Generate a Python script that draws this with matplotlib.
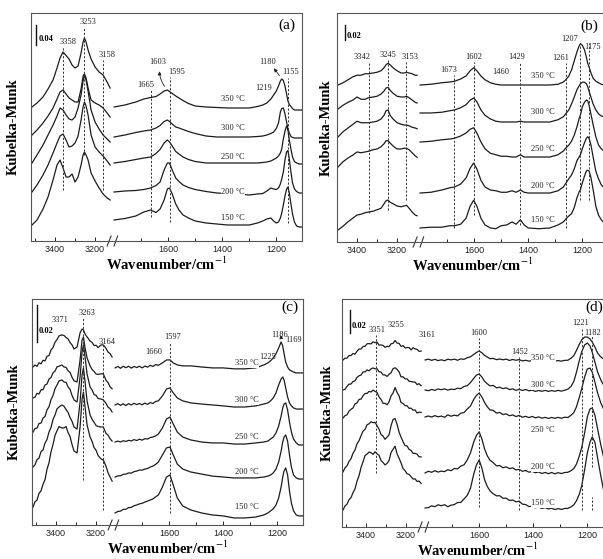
import numpy as np
import matplotlib
matplotlib.use('Agg')
from matplotlib import pyplot as plt
from matplotlib.ticker import FixedLocator

plt.rcParams['font.family'] = ['Liberation Serif', 'DejaVu Serif']
plt.rcParams['mathtext.fontset'] = 'stix'

temps = ['350 °C', '300 °C', '250 °C', '200 °C', '150 °C']

# ---------------- (a) ----------------  spectra in 1e-3 K-M units
a_hi_wn = [3515, 3490, 3460, 3435, 3410, 3390, 3375, 3360, 3345, 3330, 3315, 3300,
           3285, 3270, 3260, 3253, 3245, 3235, 3220, 3200, 3180, 3160, 3140, 3125]
a_hi_350 = [0, 8, 20, 36, 54, 78, 98, 110, 103, 96, 84, 78, 82, 108, 130, 138, 130, 114, 96, 80, 70, 64, 50, 38]
a_hi_300 = [0, 10, 24, 38, 54, 72, 86, 90, 82, 74, 70, 66, 66, 92, 118, 122, 114, 94, 70, 64, 60, 54, 44, 36]
a_hi_250 = [0, 16, 36, 56, 76, 94, 110, 106, 96, 88, 86, 92, 110, 136, 164, 176, 166, 144, 106, 82, 68, 56, 48, 42]
a_hi_200 = [0, 14, 34, 54, 78, 98, 112, 116, 104, 90, 92, 98, 112, 144, 170, 180, 172, 154, 114, 90, 80, 72, 62, 54]
a_hi_150 = [0, 10, 32, 56, 90, 120, 130, 114, 96, 96, 102, 86, 96, 120, 140, 146, 140, 130, 104, 88, 74, 62, 54, 50]

a_lo_wn = [1800, 1760, 1720, 1690, 1665, 1645, 1630, 1615, 1603, 1595, 1585, 1572, 1560, 1545,
           1525, 1500, 1460, 1420, 1380, 1340, 1300, 1270, 1250, 1235, 1220, 1210, 1200, 1192,
           1185, 1180, 1174, 1168, 1162, 1157, 1152, 1146, 1140, 1133, 1125, 1115, 1105]
a_lo_350 = [0, 4, 10, 16, 19, 21, 26, 32, 34, 31, 27, 22, 18, 13, 7, 2, 0, -1, -2, -2, -2, 1, 4, 8,
            16, 24, 32, 42, 52, 56, 53, 42, 26, 12, 5, 1, -3, -6, -6, -6, -6]
a_lo_300 = [0, 4, 9, 12, 14, 18, 23, 31, 34, 31, 26, 20, 18, 15, 11, 7, 2, 0, 0, 0, 0, 1, 2, 4,
            7, 10, 17, 28, 50, 57, 58, 46, 30, 16, 8, 1, -1, -2, -2, -2, -2]
a_lo_250 = [0, 3, 7, 10, 12, 19, 27, 40, 46, 42, 34, 23, 18, 12, 7, 3, 0, 0, 0, 0, 0, 0, 1, 2,
            4, 7, 10, 14, 20, 28, 48, 64, 74, 66, 46, 28, 12, 3, 0, -2, -2]
a_lo_200 = [0, 2, 3, 5, 8, 13, 20, 44, 58, 58, 44, 28, 21, 14, 9, 5, 1, -2, -3, -4, -6, -4, -3, 2,
            8, 6, 5, 8, 16, 26, 40, 64, 80, 83, 66, 40, 18, 6, 1, -2, -2]
a_lo_150 = [0, 3, 8, 16, 20, 15, 22, 40, 62, 64, 52, 32, 20, 10, 4, -2, -6, -8, -10, -10, -10, -6,
            -2, 2, 4, -2, -6, -4, 4, 14, 30, 48, 62, 66, 54, 32, 12, -4, -12, -14, -14]
a_off_hi = [0.268, 0.212, 0.156, 0.098, 0.032]
a_off_lo = [0.268, 0.208, 0.156, 0.098, 0.042]

# ---------------- (b) ----------------
b_hi_wn = [3495, 3470, 3445, 3420, 3400, 3380, 3360, 3342, 3320, 3300, 3280, 3265,
           3255, 3245, 3235, 3220, 3200, 3180, 3165, 3153, 3140, 3125, 3110, 3100]
b_hi_350 = [0, 3, 7, 11, 13, 13, 15, 15, 16, 17, 19, 23, 27, 29, 27, 23, 19, 16, 16, 17, 16, 15, 13, 13]
b_hi_300 = [0, 5, 9, 12, 16, 13, 13, 15, 16, 17, 20, 24, 28, 29, 25, 21, 17, 16, 16, 17, 15, 12, 9, 8]
b_hi_250 = [0, 7, 12, 17, 21, 19, 19, 19, 20, 21, 24, 29, 35, 36, 29, 24, 19, 17, 16, 16, 15, 13, 12, 11]
b_hi_200 = [0, 7, 12, 16, 20, 19, 20, 21, 23, 24, 27, 31, 35, 35, 32, 28, 24, 24, 25, 25, 23, 19, 15, 13]
b_hi_150 = [0, 5, 11, 16, 20, 21, 23, 24, 25, 27, 29, 35, 39, 40, 37, 35, 32, 31, 32, 33, 29, 24, 20, 19]

b_lo_wn = [1800, 1760, 1720, 1690, 1673, 1650, 1630, 1615, 1602, 1590, 1575, 1560, 1540, 1520,
           1500, 1480, 1460, 1445, 1429, 1415, 1400, 1360, 1320, 1290, 1270, 1261, 1250, 1240,
           1230, 1220, 1212, 1207, 1200, 1192, 1185, 1180, 1175, 1168, 1160, 1150, 1140, 1130,
           1120, 1105]
b_lo_350 = [0, 1, 3, 4, 5, 8, 12, 19, 23, 19, 12, 7, 3, 1, 0, 0, 0, 0, 0, 0, 0, 0, 0, 1, 4, 7,
            12, 20, 32, 44, 52, 55, 53, 47, 37, 29, 24, 16, 9, 5, 3, 1, 0, 0]
b_lo_300 = [12, 12, 13, 15, 16, 19, 23, 29, 32, 27, 16, 9, 4, 1, 0, 0, 0, 0, 1, 0, 0, 0, 0, 3, 7,
            11, 16, 24, 33, 43, 48, 51, 53, 53, 51, 47, 41, 33, 24, 16, 11, 8, 7, 5]
b_lo_250 = [20, 21, 23, 24, 25, 28, 32, 37, 39, 32, 20, 11, 5, 3, 1, 1, 0, 0, 3, 0, 0, 0, 0, 3, 8,
            12, 16, 21, 29, 40, 51, 56, 67, 73, 76, 75, 69, 57, 43, 27, 16, 11, 8, 7]
b_lo_200 = [0, 1, 4, 7, 8, 12, 20, 33, 40, 32, 17, 8, 4, 3, 1, 1, 3, 1, 4, 1, 0, 0, 0, 3, 8, 13,
            19, 24, 32, 43, 48, 51, 59, 67, 73, 75, 73, 64, 48, 29, 19, 11, 7, 5]
b_lo_150 = [0, 1, 1, 3, 3, 5, 13, 29, 37, 29, 13, 4, 0, -1, 3, 4, 8, 5, 11, 4, 0, -1, 0, 4, 8, 12,
            16, 19, 27, 40, 48, 51, 60, 69, 76, 77, 76, 67, 51, 29, 17, 11, 7, 5]
b_off_hi = [0.2093, 0.1773, 0.140, 0.100, 0.016]
b_off_lo = [0.2093, 0.160, 0.1133, 0.0653, 0.0187]

# ---------------- (c) ----------------
c_hi_wn = [3515, 3505, 3495, 3485, 3475, 3465, 3455, 3445, 3435, 3425, 3415, 3405, 3395, 3385,
           3371, 3360, 3350, 3340, 3330, 3320, 3310, 3295, 3280, 3270, 3263, 3255, 3245, 3230,
           3220, 3210, 3200, 3190, 3175, 3164, 3150, 3140, 3130, 3120]
c_hi_350 = [0, 1.1, 0.3, 2.3, 1.7, 3.6, 3.3, 5.8, 6.1, 9.2, 10.5, 13.4, 14.8, 16.8,
            17.3, 17.0, 15.9, 15.2, 13.2, 11.9, 9.7, 10.8, 18.4, 20.5, 20.0, 17.8, 16.2, 14.0,
            13.3, 11.6, 11.7, 10.5, 11.9, 11.9, 10.0, 8.0, 7.2, 5.4]
c_hi_300 = [0, 0.4, 2.5, 2.1, 4.4, 4.4, 7.0, 7.5, 10.2, 11.0, 13.6, 14.5, 16.8, 17.1,
            17.8, 16.7, 16.5, 14.6, 13.8, 11.1, 9.2, 8.6, 20.5, 31.3, 32.9, 27.0, 21.6, 17.3,
            15.4, 14.3, 12.9, 12.7, 13.0, 13.0, 9.4, 8.2, 6.0, 4.9]
c_hi_250 = [0, 1.9, 2.1, 4.6, 4.8, 7.5, 8.4, 12.0, 13.6, 17.5, 19.7, 23.4, 25.4, 27.6,
            28.1, 27.0, 26.8, 24.3, 23.0, 19.7, 17.3, 16.2, 29.7, 43.2, 47.0, 40.5, 31.3, 24.3,
            22.7, 20.2, 19.8, 18.1, 17.8, 17.3, 15.4, 13.4, 12.6, 10.8]
c_hi_200 = [0, 1.2, 4.0, 4.8, 8.3, 9.2, 12.9, 14.9, 18.9, 21.4, 25.7, 28.1, 31.4, 32.4,
            33.5, 32.8, 31.0, 29.5, 26.7, 24.6, 21.6, 20.5, 35.1, 49.7, 53.5, 45.9, 35.6, 28.1,
            25.7, 24.1, 22.4, 21.9, 21.6, 21.6, 18.1, 17.2, 15.2, 14.0]
c_hi_150 = [0, 2.8, 3.7, 7.4, 8.7, 12.3, 14.8, 20.4, 23.9, 29.8, 33.8, 38.7, 41.2, 43.4,
            42.7, 42.7, 43.5, 40.2, 38.1, 33.7, 30.2, 29.2, 43.2, 58.3, 62.1, 54.0, 44.3, 37.8,
            35.4, 32.1, 30.6, 27.8, 25.9, 25.4, 21.9, 18.4, 16.2, 14.0]

c_lo_wn = [1800, 1790, 1780, 1770, 1760, 1750, 1740, 1730, 1720, 1710, 1700, 1690, 1680, 1670,
           1660, 1650, 1640, 1625, 1610, 1597, 1585, 1570, 1550, 1520, 1480, 1440, 1400, 1360,
           1320, 1280, 1250, 1235, 1225, 1215, 1205, 1195, 1186, 1180, 1175, 1169, 1162, 1155,
           1148, 1140, 1130, 1120, 1105]
c_lo_350 = [0, 0.8, -0.2, 0.9, 0.1, 0.9, -0.1, 0.8, 0.2, 0.9, 0.0, 1.0, 0.4, 1.4, 0.8, 1.8, 1.4,
            2.7, 4.3, 4.3, 2.7, 1.6, 1.1, 1.1, 0.5, 0, 0, -0.5, -0.5, 0,
            1.6, 2.7, 3.8, 5.4, 7.6, 10.8, 14.0, 11.9, 7.6, 3.2, 0.5, -1.1, -1.6, -2.2, -2.7, -2.7, -2.7]
c_lo_300 = [0, 0.7, -0.2, 0.6, -0.3, 0.7, 0.0, 0.9, 0.2, 0.8, 0.1, 1.0, 0.3, 1.3, 0.8, 1.9, 2.2,
            4.9, 8.6, 9.2, 6.5, 3.8, 2.2, 1.1, 0.5, 0, -0.5, -1.1, -1.1, -0.5,
            0.5, 1.1, 2.2, 3.8, 6.5, 10.8, 14.0, 15.1, 13.5, 9.2, 4.3, 1.1, -0.5, -1.6, -2.2, -2.2, -2.2]
c_lo_250 = [0, 0.5, 0.0, 0.7, 0.3, 0.9, 0.6, 1.3, 0.8, 1.5, 1.0, 1.8, 1.6, 2.4, 2.7, 3.3, 4.3,
            7.6, 12.4, 13.5, 9.7, 5.4, 2.7, 1.1, 0, -0.5, -0.5, -1.1, -1.1, -0.5,
            0, 0.5, 1.6, 2.7, 4.9, 8.6, 14.0, 18.4, 20.5, 21.1, 17.3, 10.8, 5.4, 1.6, -0.5, -1.6, -1.6]
c_lo_200 = [0, 0.6, 0.7, 1.4, 1.6, 2.2, 2.1, 2.9, 3.2, 3.8, 3.7, 4.3, 4.6, 5.4, 5.9, 6.8, 8.1,
            11.9, 15.7, 16.2, 11.9, 7.0, 4.3, 2.7, 1.6, 0.5, 0, -0.5, -0.5, -0.5,
            0, 0.5, 1.1, 2.2, 4.3, 8.1, 14.0, 18.9, 21.6, 22.7, 19.4, 11.9, 5.4, 1.1, -0.5, -1.1, -1.1]
c_lo_150 = [0, 0.8, 1.0, 1.9, 2.0, 2.9, 3.0, 3.9, 4.3, 4.9, 5.2, 5.9, 6.4, 7.0, 7.6, 8.7, 9.7,
            14.0, 19.4, 20.5, 15.1, 8.1, 3.8, 1.6, 0, -1.1, -1.6, -2.7, -2.7, -2.2,
            -1.1, 0, 1.1, 2.2, 4.3, 8.1, 14.0, 19.4, 22.7, 24.3, 20.5, 11.9, 5.4, 1.1, -1.1, -1.6, -1.6]
c_off_hi = [0.0853, 0.0686, 0.0502, 0.0313, 0.0097]
c_off_lo = [0.0848, 0.0648, 0.0448, 0.0259, 0.0065]

# ---------------- (d) ----------------
d_hi_wn = [3515, 3505, 3495, 3485, 3475, 3465, 3455, 3445, 3435, 3425, 3415, 3405, 3395, 3385,
           3375, 3365, 3355, 3345, 3335, 3325, 3315, 3305, 3295, 3285, 3275, 3265, 3255, 3245,
           3235, 3225, 3215, 3205, 3195, 3185, 3175, 3165, 3155, 3145, 3135, 3125]
d_hi_350 = [0, 1.6, 1.6, 3.9, 3.9, 5.7, 5.1, 7.7, 9.6, 9.6, 11.8, 11.9, 14.1, 14.3,
            14.0, 15.8, 15.1, 15.6, 13.0, 13.1, 12.7, 11.0, 12.0, 11.6, 14.1, 14.5, 17.0, 14.7,
            14.5, 11.8, 12.5, 10.5, 10.9, 10.8, 8.8, 10.7, 9.7, 9.3, 7.6, 7.7]
d_hi_300 = [0, 0.6, 3.2, 5.1, 5.2, 7.4, 8.0, 11.0, 12.4, 13.0, 15.8, 15.7, 17.5, 16.7,
            18.4, 19.2, 18.4, 18.5, 15.9, 15.6, 13.2, 13.1, 11.8, 13.7, 15.0, 18.6, 19.4, 18.0,
            15.8, 11.4, 11.5, 9.7, 9.7, 7.6, 7.4, 7.0, 6.9, 4.7, 5.5, 3.7]
d_hi_250 = [0, 2.1, 2.8, 6.0, 7.6, 8.8, 12.3, 13.2, 16.2, 16.5, 19.4, 21.4, 21.4, 23.2,
            22.7, 24.3, 23.2, 22.3, 18.4, 16.2, 12.8, 12.8, 11.6, 14.2, 19.3, 21.8, 26.6, 22.3,
            19.2, 13.4, 12.6, 10.9, 10.6, 8.5, 8.6, 6.9, 7.0, 4.4, 5.1, 4.9]
d_hi_200 = [0, 3.6, 5.3, 9.2, 11.5, 16.3, 19.1, 24.5, 27.2, 31.6, 35.5, 37.0, 41.0, 41.9,
            43.7, 42.8, 43.2, 40.3, 37.1, 32.5, 31.2, 28.4, 30.3, 32.3, 40.4, 45.6, 46.5, 41.5,
            34.7, 30.2, 26.3, 22.9, 22.6, 19.6, 18.8, 16.1, 16.2, 15.5, 13.2, 13.1]
d_hi_150 = [0, 3.5, 5.1, 8.9, 10.8, 15.1, 18.4, 25.1, 29.8, 37.0, 41.9, 47.4, 48.6, 50.4,
            49.9, 48.4, 50.6, 48.9, 47.6, 43.0, 41.3, 39.2, 40.6, 43.0, 50.1, 52.8, 55.5, 48.8,
            45.1, 40.9, 36.0, 34.2, 31.5, 31.0, 28.9, 26.9, 27.1, 24.8, 25.2, 23.1]

d_lo_wn = [1800, 1788, 1776, 1764, 1752, 1740, 1728, 1716, 1704, 1692, 1680, 1668, 1656, 1644,
           1632, 1620, 1610, 1600, 1590, 1580, 1570, 1560, 1548, 1536, 1524, 1512, 1500, 1488,
           1476, 1464, 1452, 1440, 1428, 1416, 1404, 1392, 1380, 1368, 1356, 1344, 1332, 1320,
           1308, 1296, 1284, 1272, 1260, 1250, 1240, 1230, 1221, 1210, 1200, 1190, 1182, 1172,
           1162, 1150, 1140, 1130, 1120, 1105]
d_lo_350 = [0, 0.8, -0.3, 0.6, -0.5, 0.2, -0.6, 0.7, 0.1, 0.8, -0.2, 1.0, 0.6, 2.0,
            2.8, 4.9, 6.6, 7.8, 6.3, 4.0, 2.6, 1.2, 1.4, 0.3, 0.9, 0.2, 0.8, -0.4,
            0.5, -0.2, 0.4, -0.8, -0.2, -1.0, -0.4, -1.1, -0.5, -1.2, -0.6, -1.1, -0.4, -1.0,
            -0.5, -1.0, -0.3, -0.2, 1.6, 3.8, 8.4, 13.5, 17.4, 20.0, 20.0, 18.3, 15.7, 11.3,
            6.1, 2.6, 0.9, 0, 0, 0]
d_lo_300 = [0, -0.6, 0.5, -0.3, 0.9, 0.3, 1.0, -0.1, 0.8, 0.4, 1.6, 1.2, 3.1, 3.8,
            6.5, 10.2, 13.0, 13.9, 11.3, 7.6, 5.4, 3.6, 4.0, 1.9, 2.4, 1.2, 1.9, 0.4,
            1.0, -0.3, 0.6, -0.4, 0.5, -0.7, -0.1, -1.2, -0.4, -1.1, -0.3, -1.2, -0.5, -1.1,
            -0.3, -1.0, -0.2, 0.7, 3.2, 7.4, 15.6, 25.3, 33.1, 39.2, 40.9, 38.3, 33.1, 24.4,
            15.7, 8.7, 4.4, 2.6, 1.7, 0.9]
d_lo_250 = [0, 0.9, 0.0, 1.2, 0.2, 0.8, -0.2, 1.9, 0.7, 1.6, 1.0, 3.3, 3.9, 7.0,
            9.6, 15.4, 18.9, 20.9, 17.4, 12.6, 8.9, 6.2, 5.8, 3.4, 4.0, 2.1, 2.8, 1.1,
            1.8, 0.4, 1.4, -0.2, 0.6, -0.5, 0.5, -0.7, 0.1, -1.0, -0.3, -1.2, -0.4, -1.1,
            -0.3, -1.1, -0.2, -0.4, 1.6, 3.8, 9.0, 16.8, 24.4, 34.8, 41.8, 42.6, 39.2, 30.5,
            20.9, 12.2, 7.0, 3.5, 1.7, 0.9]
d_lo_200 = [0, 1.5, 0.6, 2.0, 0.8, 1.6, 1.2, 2.8, 2.0, 3.9, 3.6, 6.0, 7.1, 11.4,
            17.6, 27.0, 32.8, 35.7, 29.6, 20.9, 15.0, 11.1, 9.0, 6.2, 6.5, 4.6, 5.3, 3.8,
            4.4, 2.7, 3.1, 1.5, 2.2, 0.7, 1.4, 0.2, 0.9, -0.5, 0.5, -0.6, 0.4, -0.7,
            0.3, -0.5, 0.4, 0.6, 2.0, 3.9, 7.8, 14.5, 21.8, 34.8, 48.7, 55.7, 56.6, 50.5,
            38.3, 24.4, 13.9, 7.8, 4.4, 1.7]
d_lo_150 = [0, 0.4, 1.9, 1.2, 2.8, 2.0, 2.9, 1.1, 2.5, 3.0, 4.8, 4.9, 7.9, 11.0,
            17.4, 29.6, 37.6, 41.8, 34.8, 24.6, 18.8, 14.9, 12.4, 10.6, 10.7, 8.5, 8.6, 6.6,
            7.0, 5.4, 5.9, 3.4, 3.0, 1.3, 1.5, 0.2, 0.9, -0.4, 0.4, -0.8, -0.2, -1.3,
            -0.5, -1.2, -0.4, -0.3, 1.0, 2.8, 6.4, 11.8, 19.1, 33.1, 47.9, 57.4, 61.8, 57.4,
            43.5, 27.8, 15.7, 8.7, 4.4, 1.7]
d_off_hi = [0.1453, 0.1192, 0.0948, 0.0479, 0.0148]
d_off_lo = [0.1453, 0.1192, 0.0957, 0.0470, 0.0165]

# peak marks: (wavenumber, label dx in pt, label y, dashed line top, dashed line bottom)
a_peaks = [(3358, 3.3, .873, .851, .224), (3253, 2.6, .960, .939, .377), (3158, 2.6, .816, .794, .224),
           (1665, -3.2, .684, .662, .105), (1603, -7.2, .785, None, None), (1595, 4.8, .741, .719, .083),
           (1180, -10.4, .785, None, None), (1155, 1.3, .741, .715, .079), (1219, -5.7, .671, None, None)]
b_peaks = [(3342, -4.8, .808, .786, .127), (3245, 0, .817, .795, .140), (3153, 2.6, .808, .786, .183),
           (1673, -4.5, .751, .729, .061), (1602, 0, .808, .786, .118), (1460, -7.8, .742, None, None),
           (1429, -3, .808, .786, .074), (1261, -4, .803, .782, .061), (1207, -8, .886, .869, .183),
           (1175, 2.5, .852, .869, .183)]
c_peaks = [(3371, -1.3, .907, None, None), (3263, 2.6, .938, .916, .199), (3164, 2.7, .810, .796, .066),
           (1660, 0.9, .765, None, None), (1597, 1.6, .832, .810, .053), (1225, -2.4, .743, None, None),
           (1186, -1.3, .841, None, None), (1169, 5.5, .819, None, None)]
d_peaks = [(3351, 0.9, .864, .842, .237), (3255, 0.7, .886, None, None), (3161, 9.5, .842, None, None),
           (1600, 0, .851, .829, .088), (1452, 0, .768, .746, .075), (1221, -1, .895, .877, .075),
           (1182, 0.3, .851, .842, .263), (1182, None, None, .132, .075)]

W_END = 1105.0
GAP = 3.0


def broken_scale(w_cut):
    # high block at 0.2 px per cm-1, low block (1800 .. W_END) at 0.27, small gap between
    rw = (1800 - W_END) * 0.27

    def fwd(w):
        w = np.asarray(w, dtype=float)
        lo = (w - W_END) * 0.27
        mid = rw + (w - 1800) / (w_cut - 1800) * GAP
        hi = rw + GAP + (w - w_cut) * 0.2
        return np.where(w <= 1800, lo, np.where(w < w_cut, mid, hi))

    def inv(u):
        u = np.asarray(u, dtype=float)
        lo = W_END + u / 0.27
        mid = 1800 + (u - rw) / GAP * (w_cut - 1800)
        hi = w_cut + (u - rw - GAP) / 0.2
        return np.where(u <= rw, lo, np.where(u < rw + GAP, mid, hi))
    return fwd, inv


fig = plt.figure(figsize=(6.03, 5.59), dpi=100)
W, H = 603.0, 559.0

panels = [
    dict(rect=(31, 241, 228), w_left=3520, ymax=0.456, hi_wn=a_hi_wn, lo_wn=a_lo_wn,
         hi=[a_hi_350, a_hi_300, a_hi_250, a_hi_200, a_hi_150],
         lo=[a_lo_350, a_lo_300, a_lo_250, a_lo_200, a_lo_150], off_hi=a_off_hi, off_lo=a_off_lo,
         peaks=a_peaks, tag='(a)', tag_xy=(0.945, 0.947), bar=(3495, 0.392, 0.04, '0.04', 3480),
         t_x=1360, t_y=[0.623, 0.496, 0.368, 0.215, 0.101], pad=8),
    dict(rect=(337, 242, 229), w_left=3500, ymax=0.3053, hi_wn=b_hi_wn, lo_wn=b_lo_wn,
         hi=[b_hi_350, b_hi_300, b_hi_250, b_hi_200, b_hi_150],
         lo=[b_lo_350, b_lo_300, b_lo_250, b_lo_200, b_lo_150], off_hi=b_off_hi, off_lo=b_off_lo,
         peaks=b_peaks, tag='(b)', tag_xy=(0.93, 0.943), bar=(3460, 0.2693, 0.02, '0.02', 3452),
         t_x=1345, t_y=[0.725, 0.568, 0.406, 0.245, 0.096], pad=3),
    dict(rect=(32, 525, 226), w_left=3520, ymax=0.122, hi_wn=c_hi_wn, lo_wn=c_lo_wn,
         hi=[c_hi_350, c_hi_300, c_hi_250, c_hi_200, c_hi_150],
         lo=[c_lo_350, c_lo_300, c_lo_250, c_lo_200, c_lo_150], off_hi=c_off_hi, off_lo=c_off_lo,
         peaks=c_peaks, tag='(c)', tag_xy=(0.952, 0.965), bar=(3495, 0.0988, 0.02, '0.02', 3486),
         t_x=1312, t_y=[0.717, 0.553, 0.389, 0.235, 0.080], pad=8),
    dict(rect=(342, 527, 228), w_left=3520, ymax=0.1984, hi_wn=d_hi_wn, lo_wn=d_lo_wn,
         hi=[d_hi_350, d_hi_300, d_hi_250, d_hi_200, d_hi_150],
         lo=[d_lo_350, d_lo_300, d_lo_250, d_lo_200, d_lo_150], off_hi=d_off_hi, off_lo=d_off_lo,
         peaks=d_peaks, tag='(d)', tag_xy=(0.93, 0.965), bar=(3480, 0.1688, 0.02, '0.02', 3472),
         t_x=1363, t_y=[0.741, 0.623, 0.425, 0.263, 0.105], pad=6),
]

line_kw = dict(color='#1c1c1c', lw=0.9)
dash_kw = dict(color='#333333', lw=0.7, ls=(0, (2.2, 1.8)))

for p in panels:
    x0, y0, h = p['rect']
    ax = fig.add_axes([x0 / W, (H - y0) / H, 271 / W, h / H])
    w_cut = p['w_left'] - 400
    ax.set_xscale('function', functions=broken_scale(w_cut))
    ax.set_xlim(p['w_left'], W_END)
    ax.set_ylim(0, p['ymax'])

    for i in range(5):
        ax.plot(p['hi_wn'], np.array(p['hi'][i]) * 1e-3 + p['off_hi'][i], **line_kw)
        ax.plot(p['lo_wn'], np.array(p['lo'][i]) * 1e-3 + p['off_lo'][i], **line_kw)
        ax.text(p['t_x'], p['t_y'][i], temps[i], transform=ax.get_xaxis_transform(),
                fontsize=6, ha='center', va='center', color='#222222',
                bbox=dict(fc='white', ec='none', pad=0.4))

    for wn, dx, ty, top, bot in p['peaks']:
        if top is not None:
            ax.axvline(wn, ymin=bot, ymax=top, **dash_kw)
        if dx is not None:
            ax.annotate(str(wn), xy=(wn, ty), xycoords=ax.get_xaxis_transform(),
                        xytext=(dx, 0), textcoords='offset points',
                        fontsize=6, ha='center', va='center', color='#222222')

    # scale bar
    bx, by, bl, btxt, tx = p['bar']
    ax.plot([bx, bx], [by, by + bl], color='#111111', lw=1.0)
    ax.text(tx, by + 0.3 * bl, btxt, fontsize=6, fontweight='bold', ha='left', va='center')

    ax.text(*p['tag_xy'], p['tag'], transform=ax.transAxes, fontsize=11, ha='center', va='center')

    # axis break marks
    for wn, d in ((w_cut + 8, 12), (1800 - 4, 9)):
        ax.plot([wn + d, wn - d], [-0.022, 0.022], transform=ax.get_xaxis_transform(),
                color='#333333', lw=0.8, clip_on=False)

    ax.xaxis.set_major_locator(FixedLocator([3400, 3200, 1600, 1400, 1200]))
    ax.xaxis.set_minor_locator(FixedLocator([3500, 3300, 1700, 1500, 1300]))
    ax.tick_params(axis='x', which='major', direction='in', length=3, width=0.7, pad=3,
                   labelsize=6.5, labelfontfamily='Liberation Sans', colors='#222222')
    ax.tick_params(axis='x', which='minor', direction='in', length=2, width=0.6)
    ax.set_yticks([])
    for s in ax.spines.values():
        s.set_color('#555555')
        s.set_linewidth(0.8)
    ax.set_xlabel('Wavenumber/cm$^{-1}$', fontsize=10.5, fontweight='bold', labelpad=1)
    ax.set_ylabel('Kubelka-Munk', fontsize=10.5, fontweight='bold', labelpad=p['pad'])

    if p['tag'] == '(a)':
        ax.annotate('', xy=(1632, 0.345), xytext=(1607, 0.305),
                    arrowprops=dict(arrowstyle='-|>', lw=0.6, color='#222222', mutation_scale=5,
                                    connectionstyle='arc3,rad=-0.2'))
        ax.annotate('', xy=(1215, 0.350), xytext=(1182, 0.326),
                    arrowprops=dict(arrowstyle='-|>', lw=0.6, color='#222222', mutation_scale=5))
    if p['tag'] == '(c)':
        ax.annotate('', xy=(1190, 0.104), xytext=(1184, 0.0995),
                    arrowprops=dict(arrowstyle='-|>', lw=0.6, color='#222222', mutation_scale=5))

fig.savefig('out.png', dpi=100)
